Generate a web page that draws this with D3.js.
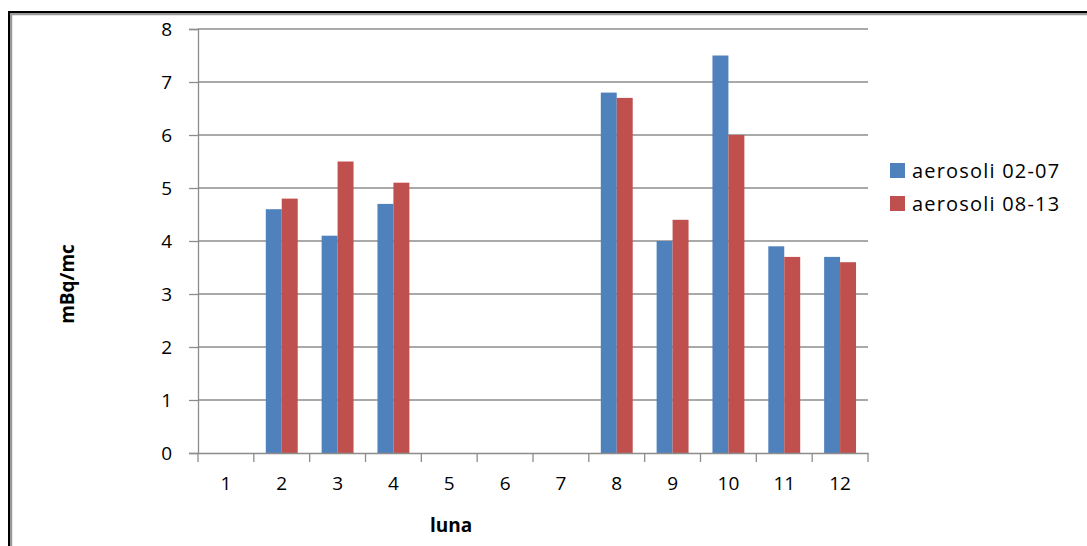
<!DOCTYPE html>
<html>
<head>
<meta charset="utf-8">
<script src="https://cdn.jsdelivr.net/npm/d3@7"></script>
<style>
  html, body { margin: 0; padding: 0; background: #fff; }
  svg { display: block; }
  text { font-family: "Open Sans", "Noto Sans", sans-serif; fill: #000; }
</style>
</head>
<body>
<svg id="chart" width="1087" height="546"></svg>
<script>
const months = ["1","2","3","4","5","6","7","8","9","10","11","12"];
const seriesNames = ["aerosoli 02-07", "aerosoli 08-13"];
const aerosoli0207 = [null, 4.6, 4.1, 4.7, null, null, null, 6.8, 4.0, 7.5, 3.9, 3.7];
const aerosoli0813 = [null, 4.8, 5.5, 5.1, null, null, null, 6.7, 4.4, 6.0, 3.7, 3.6];
const yTicks = [0, 1, 2, 3, 4, 5, 6, 7, 8];
const colors = ["#4F81BD", "#C0504D"];

const svg = d3.select("#chart");

// outer frame
svg.append("rect").attr("x", 11).attr("y", 14).attr("width", 1200).attr("height", 700)
  .attr("fill", "none").attr("stroke", "#9a9a9a").attr("stroke-width", 2.5);
svg.append("rect").attr("x", 9).attr("y", 12).attr("width", 1200).attr("height", 700)
  .attr("fill", "none").attr("stroke", "#000").attr("stroke-width", 2);

const pLeft = 198, pRight = 868, pTop = 29, pBottom = 453;

const x = d3.scaleBand().domain(months).range([pLeft, pRight]).paddingInner(0).paddingOuter(0);
const y = d3.scaleLinear().domain([0, 8]).range([pBottom, pTop]);
const inner = d3.scaleBand().domain([0, 1]).range([0, x.bandwidth()]).paddingInner(0).paddingOuter(0.75);

// gridlines
svg.append("g").selectAll("line").data(yTicks.filter(d => d > 0)).join("line")
  .attr("x1", pLeft).attr("x2", pRight)
  .attr("y1", d => y(d)).attr("y2", d => y(d))
  .attr("stroke", "#8c8c8c").attr("stroke-width", 1.3);

// bars
const seriesData = [aerosoli0207, aerosoli0813];
seriesData.forEach((vals, si) => {
  svg.append("g").selectAll("rect")
    .data(months.map((m, i) => ({ m, v: vals[i] })).filter(d => d.v != null))
    .join("rect")
    .attr("x", d => x(d.m) + inner(si))
    .attr("width", inner.bandwidth())
    .attr("y", d => y(d.v))
    .attr("height", d => y(0) - y(d.v))
    .attr("fill", colors[si]);
});

// y axis
const yAxis = d3.axisLeft(y).tickValues(yTicks).tickSize(9).tickPadding(17).tickFormat(d3.format("d"));
const gy = svg.append("g").attr("transform", `translate(${pLeft},0)`).call(yAxis);
gy.select(".domain").attr("stroke", "#8c8c8c").attr("stroke-width", 1.3);
gy.selectAll(".tick line").attr("stroke", "#8c8c8c").attr("stroke-width", 1.3);
gy.selectAll(".tick text").style("font-size", "19px");

// x axis
const gx = svg.append("g").attr("transform", `translate(0,${pBottom})`).call(
  d3.axisBottom(x).tickSize(0).tickPadding(24));
gx.select(".domain").attr("stroke", "#8c8c8c").attr("stroke-width", 1.3);
gx.selectAll(".tick text").style("font-size", "19px");
// category boundary ticks
svg.append("g").selectAll("line").data(months.concat(["end"])).join("line")
  .attr("x1", (d, i) => i < months.length ? x(d) : pRight)
  .attr("x2", (d, i) => i < months.length ? x(d) : pRight)
  .attr("y1", pBottom).attr("y2", pBottom + 9)
  .attr("stroke", "#8c8c8c").attr("stroke-width", 1.3);

// axis titles
svg.append("text").attr("x", 451).attr("y", 532).attr("text-anchor", "middle")
  .style("font-size", "19px").style("font-weight", "bold").text("luna");
svg.append("text").attr("transform", "translate(74,284) rotate(-90)").attr("text-anchor", "middle")
  .style("font-size", "19px").style("font-weight", "bold").text("mBq/mc");

// legend
const lg = svg.append("g").attr("transform", "translate(890,163)");
seriesNames.forEach((name, i) => {
  lg.append("rect").attr("x", 0).attr("y", i * 33).attr("width", 15).attr("height", 15).attr("fill", colors[i]);
  lg.append("text").attr("x", 22).attr("y", i * 33 + 8).attr("dy", "0.36em")
    .style("font-size", "20px").style("letter-spacing", "1.2px").text(name);
});
</script>
</body>
</html>
